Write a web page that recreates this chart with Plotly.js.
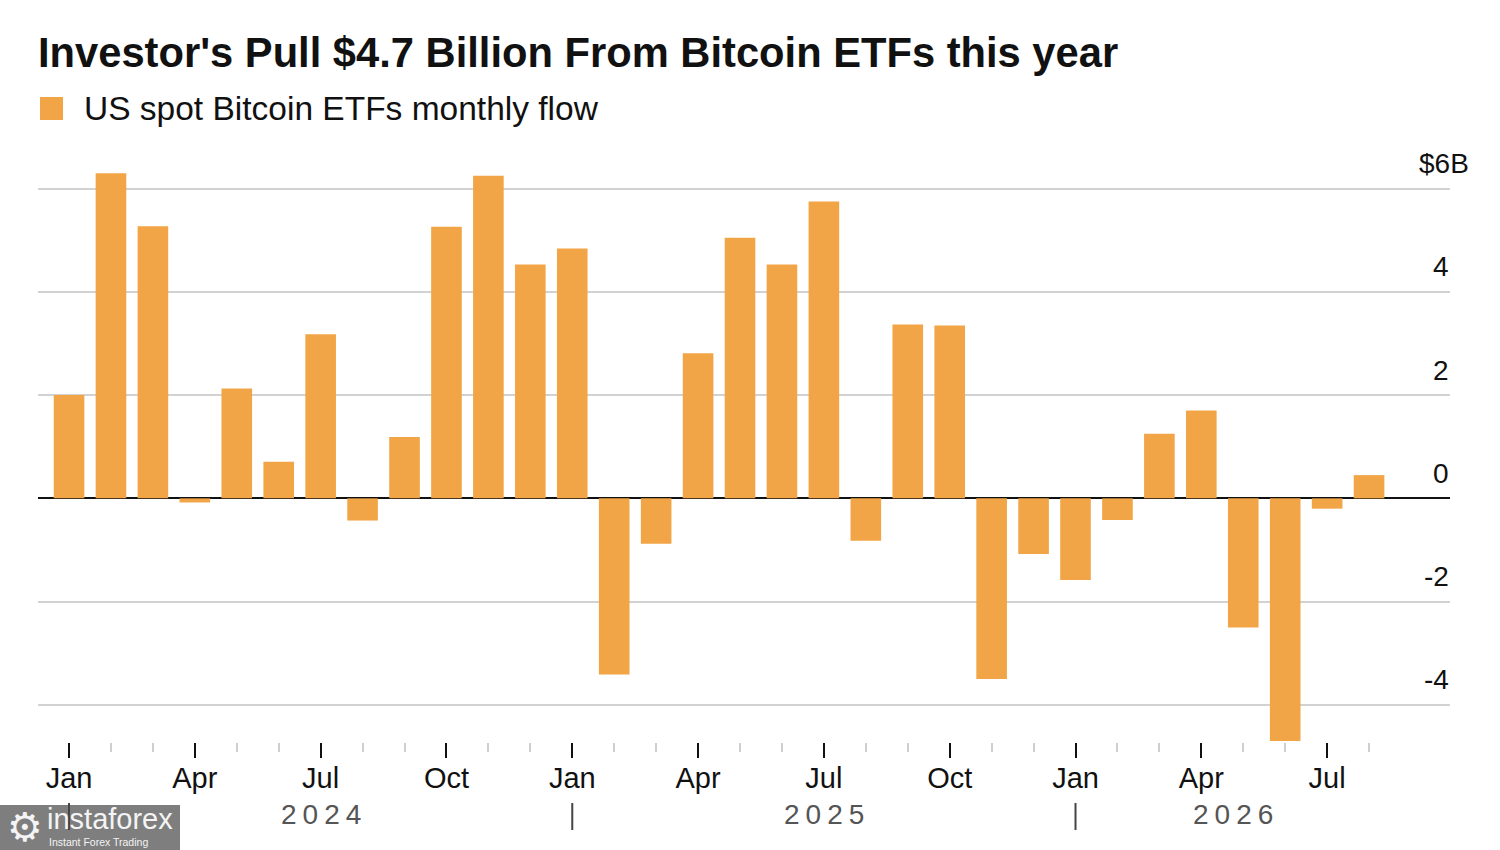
<!DOCTYPE html>
<html>
<head>
<meta charset="utf-8">
<script src="https://cdn.plot.ly/plotly-3.0.1.min.js"></script>
<style>
  html, body { margin: 0; padding: 0; background: #fff; }
  #chart { width: 1500px; height: 850px; }
</style>
</head>
<body>
<div id="chart"></div>
<script>
// ---- Data ----
const months = [
  '2024-01','2024-02','2024-03','2024-04','2024-05','2024-06','2024-07','2024-08','2024-09','2024-10','2024-11','2024-12',
  '2025-01','2025-02','2025-03','2025-04','2025-05','2025-06','2025-07','2025-08','2025-09','2025-10','2025-11','2025-12',
  '2026-01','2026-02','2026-03','2026-04','2026-05','2026-06','2026-07','2026-08'
];
const flows = [
  2.00, 6.30, 5.27, -0.08, 2.13, 0.71, 3.18, -0.43, 1.19, 5.26, 6.25, 4.53,
  4.84, -3.41, -0.88, 2.81, 5.05, 4.53, 5.75, -0.82, 3.37, 3.35, -3.50, -1.08,
  -1.58, -0.42, 1.25, 1.70, -2.50, -4.70, -0.20, 0.45
];
const monthNames = ['Jan','Feb','Mar','Apr','May','Jun','Jul','Aug','Sep','Oct','Nov','Dec'];
const yTickVals = [-4, -2, 0, 2, 4, 6];
const yTickText = ['-4', '-2', '0', '2', '4', '$6B'];
const titleText = "Investor's Pull $4.7 Billion From Bitcoin ETFs this year";
const seriesName = 'US spot Bitcoin ETFs monthly flow';

// ---- Derived ----
const idx = months.map((m, i) => i);
const monthNum = months.map(m => parseInt(m.split('-')[1], 10) - 1);
const majorIdx = idx.filter(i => monthNum[i] % 3 === 0);
const majorText = majorIdx.map(i => monthNames[monthNum[i]]);
const years = [...new Set(months.map(m => m.split('-')[0]))];
const yearStart = years.map(y => months.findIndex(m => m.startsWith(y)));
const yearCenter = years.map((y, k) => {
  const s = yearStart[k];
  const e = k + 1 < years.length ? yearStart[k + 1] : months.length - 0.5;
  return (s + e) / 2;
});

// ---- Layout geometry (pixels) ----
const W = 1500, H = 850;
const L = 38, R = 50, T = 169, B = 108;
const PW = W - L - R, PH = H - T - B;
const px = x => (x - L) / PW;
const py = y => (H - B - y) / PH;

const FONT = 'Liberation Sans, Arial, Helvetica, sans-serif';
const ORANGE = '#f2a546';

const trace = {
  type: 'bar',
  x: idx,
  y: flows,
  name: seriesName,
  marker: { color: ORANGE, line: { width: 0 } },
  hoverinfo: 'y',
  showlegend: false
};

const annotations = [];
// y tick labels (above grid lines, right aligned)
yTickVals.forEach((v, k) => {
  const isTop = k === yTickVals.length - 1;
  annotations.push({
    xref: 'paper', yref: 'y', x: 1, y: v,
    xanchor: 'right', yanchor: 'middle',
    xshift: isTop ? 21 : 1, yshift: 25,
    text: yTickText[k], showarrow: false,
    font: { family: FONT, size: 28, color: '#111' }
  });
});
// year labels
years.forEach((y, k) => {
  annotations.push({
    xref: 'x', yref: 'paper', x: yearCenter[k], y: py(815),
    xanchor: 'center', yanchor: 'middle', xshift: 3,
    text: y, showarrow: false,
    font: { family: FONT, size: 28, color: '#555' }
  });
});
// legend
annotations.push({
  xref: 'paper', yref: 'paper', x: px(82), y: py(109),
  xanchor: 'left', yanchor: 'middle', showarrow: false,
  text: seriesName,
  font: { family: FONT, size: 33.5, color: '#111' }
});
// watermark
annotations.push({
  xref: 'paper', yref: 'paper', x: px(25), y: py(827),
  xanchor: 'center', yanchor: 'middle', showarrow: false,
  text: '\u2699', font: { family: 'DejaVu Sans', size: 40, color: '#f4f4f4' }
});
annotations.push({
  xref: 'paper', yref: 'paper', x: px(45), y: py(819),
  xanchor: 'left', yanchor: 'middle', showarrow: false,
  text: 'instaforex', font: { family: FONT, size: 29, color: '#f4f4f4' }
});
annotations.push({
  xref: 'paper', yref: 'paper', x: px(47), y: py(842),
  xanchor: 'left', yanchor: 'middle', showarrow: false,
  text: 'Instant Forex Trading', font: { family: FONT, size: 10.5, color: '#f4f4f4' }
});

const shapes = [];
// legend square
shapes.push({
  type: 'rect', xref: 'paper', yref: 'paper',
  x0: px(40), x1: px(63), y0: py(120), y1: py(97),
  fillcolor: ORANGE, line: { width: 0 }, layer: 'above'
});
// watermark box
shapes.push({
  type: 'rect', xref: 'paper', yref: 'paper',
  x0: px(0), x1: px(180), y0: py(850), y1: py(805),
  fillcolor: 'rgba(115,115,115,0.92)', line: { width: 0 }, layer: 'above'
});
// year separators
yearStart.forEach(s => {
  shapes.push({
    type: 'line', xref: 'x', yref: 'paper',
    x0: s, x1: s, y0: py(803), y1: py(830),
    line: { color: '#444', width: 2 }, layer: 'above'
  });
});

const layout = {
  width: W, height: H,
  margin: { l: L, r: R, t: T, b: B, pad: 0 },
  paper_bgcolor: '#fff', plot_bgcolor: '#fff',
  title: {
    text: '<b>' + titleText + '</b>',
    xref: 'container', yref: 'container',
    x: L / W, xanchor: 'left', y: 1 - 52 / H, yanchor: 'middle',
    font: { family: FONT, size: 41.7, color: '#111' }
  },
  bargap: 0.27,
  showlegend: false,
  xaxis: {
    type: 'linear',
    range: [-0.74, 32.93],
    tickmode: 'array', tickvals: majorIdx, ticktext: majorText,
    ticks: 'outside', ticklen: 15, tickwidth: 2, tickcolor: '#111',
    ticklabelstandoff: -5,
    tickfont: { family: FONT, size: 29, color: '#111' },
    minor: { tickmode: 'array', tickvals: idx, ticks: 'outside', ticklen: 9, tickwidth: 2, tickcolor: '#cfcfcf', showgrid: false },
    showgrid: false, zeroline: false, showline: false, fixedrange: true
  },
  yaxis: {
    range: [-4.72, 6.38],
    tickmode: 'array', tickvals: yTickVals,
    showticklabels: false, ticks: '',
    showgrid: true, gridcolor: '#d2d2d2', gridwidth: 2,
    zeroline: true, zerolinecolor: '#111', zerolinewidth: 2,
    showline: false, fixedrange: true
  },
  annotations: annotations,
  shapes: shapes
};

Plotly.newPlot('chart', [trace], layout, { displayModeBar: false, staticPlot: true }).then(gd => {
  // letter-spaced year labels, as in the reference
  gd.querySelectorAll('.annotation-text').forEach(t => {
    if (years.includes(t.textContent)) t.style.letterSpacing = '6px';
  });
});
</script>
</body>
</html>
